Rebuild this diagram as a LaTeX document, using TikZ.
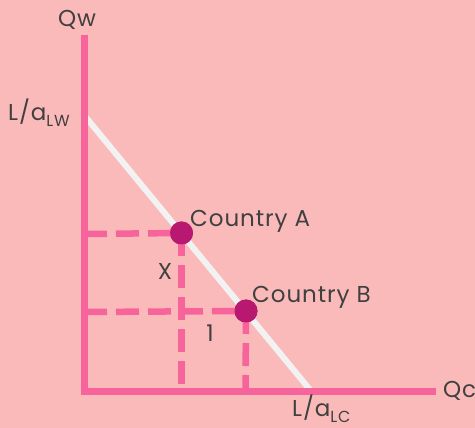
\documentclass[tikz,border=0pt]{standalone}
\usepackage{fontspec}
\setmainfont{Poppins}[LetterSpace=4]
\definecolor{bg}{HTML}{FBBABA}
\definecolor{axis}{HTML}{F7649C}
\definecolor{dot}{HTML}{B81870}
\definecolor{ppf}{HTML}{F2F2F2}
\definecolor{txt}{HTML}{404040}
\tikzset{
  axisline/.style={draw=axis, line width=7pt},
  guide/.style={draw=axis, line width=6.5pt, dash pattern=on 23pt off 9pt},
  ppfline/.style={draw=ppf, line width=6pt},
  country/.style={circle, fill=dot, minimum size=23pt, inner sep=0pt},
  lbl/.style={text=txt, font=\fontsize{23}{27}\selectfont, inner sep=0pt},
}
\newcommand{\subtxt}[1]{\raisebox{-6pt}{\fontsize{16}{19}\selectfont #1}}
\begin{document}
\begin{tikzpicture}[x=1pt,y=-1pt]
\useasboundingbox[fill=bg] (0,0) rectangle (475,428);
% axes
\coordinate (O) at (84,391);
\coordinate (ytop) at (84,35);
\coordinate (xend) at (436,391);
\coordinate (lw) at (84,115);
\coordinate (lc) at (311,391);
\draw[ppfline] (lw) -- (lc);
% guides
\coordinate (ay) at (84,234);
\coordinate (ax) at (181.5,391);
\coordinate (by) at (84,312);
\coordinate (bx) at (245.5,391);
\node[country] (A) at (181.5,233) {};
\node[country] (B) at (246,311) {};
\draw[guide] (ay) -- (A.center);
\draw[guide] (A.center) -- (ax);
\draw[guide] (by) -- (B.center);
\draw[guide] (B.center) -- (bx);
\node[country] at (A.center) {};
\node[country] at (B.center) {};
\draw[axisline] (ytop) -- (84,394.5);
\draw[axisline] (80.5,391) -- (xend);
% labels
\node[lbl, anchor=base] (qw) at (77,27) {Qw};
\node[lbl, anchor=base west] (lwl) at (8,121) {L/a\subtxt{LW}};
\node[lbl, anchor=base west] (lcl) at (292,416) {L/a\subtxt{LC}};
\node[lbl, anchor=base west] (qc) at (443,397) {Qc};
\node[lbl, anchor=base west] (ca) at (190,226) {Country A};
\node[lbl, anchor=base west] (cb) at (252,302) {Country B};
\node[lbl] (xl) at (165,271) {X};
\node[lbl] (one) at (210,333) {1};
\end{tikzpicture}
\end{document}
